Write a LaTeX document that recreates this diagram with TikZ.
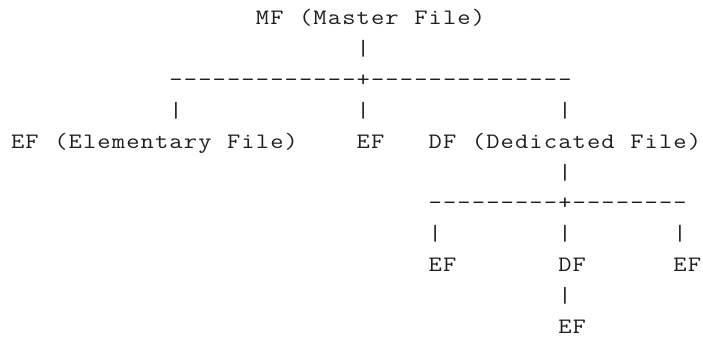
\documentclass[tikz,border=0pt]{standalone}
\usepackage{graphicx}
\usepackage{fontspec}
\tikzset{
  txt/.style={anchor=base west, inner sep=0pt, outer sep=0pt, text=black!88,
    font=\ttfamily\fontsize{22}{22}\selectfont}
}
% each character in a fixed 14.4pt cell (monospaced grid); ~ stands for a space
\def\gridloop#1{\ifx\relax#1\else\makebox[14.4pt][c]{\scalebox{1.17}[1]{#1}}\expandafter\gridloop\fi}
\newcommand\gridtext[1]{\gridloop#1\relax}
\newcommand\asccell[4]{\node[txt] (#1) at ({10.5+14.4*#2},{-(24.5+30.9*(#3-1))}) {\gridtext{#4}};}
\begin{document}
\begin{tikzpicture}[x=1pt,y=1pt]
\fill[white] (0,0) rectangle (703,-338);
\useasboundingbox (0,0) rectangle (703,-338);
% row 1
\asccell{mf}{17}{1}{MF~(Master~File)}
% row 2
\asccell{p2}{24}{2}{|}
% row 3
\asccell{h3}{11}{3}{-------------+--------------}
% row 4
\asccell{p4a}{11}{4}{|}
\asccell{p4b}{24}{4}{|}
\asccell{p4c}{38}{4}{|}
% row 5
\asccell{efa}{0}{5}{EF~(Elementary~File)}
\asccell{efb}{24}{5}{EF}
\asccell{df}{29}{5}{DF~(Dedicated~File)}
% row 6
\asccell{p6}{38}{6}{|}
% row 7
\asccell{h7}{29}{7}{---------+--------}
% row 8
\asccell{p8a}{29}{8}{|}
\asccell{p8b}{38}{8}{|}
\asccell{p8c}{46}{8}{|}
% row 9
\asccell{efc}{29}{9}{EF}
\asccell{dfb}{38}{9}{DF}
\asccell{efd}{46}{9}{EF}
% row 10
\asccell{p10}{38}{10}{|}
% row 11
\asccell{efe}{38}{11}{EF}
\end{tikzpicture}
\end{document}
